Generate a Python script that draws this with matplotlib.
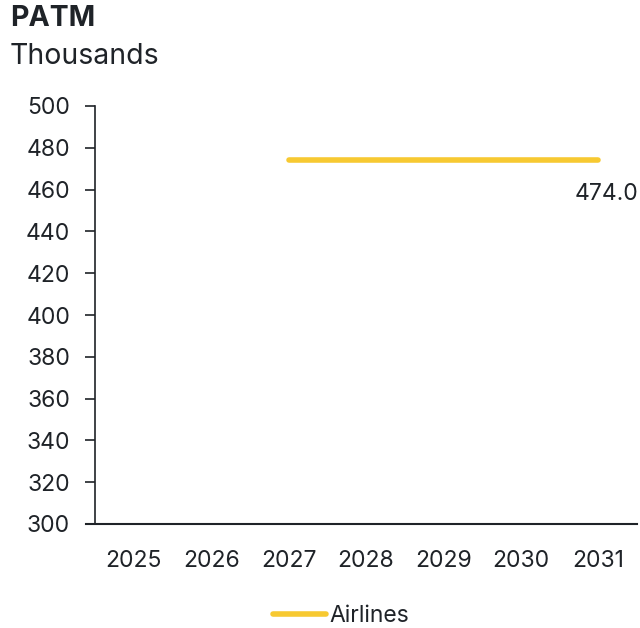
import matplotlib
matplotlib.use("Agg")
import matplotlib.pyplot as plt
from matplotlib.lines import Line2D

years = ["2025", "2026", "2027", "2028", "2029", "2030", "2031"]
airlines = [None, None, 474.0, 474.0, 474.0, 474.0, 474.0]
y_ticks = list(range(300, 501, 20))

text_color = "#1f2328"
line_color = "#F7C931"
plt.rcParams["font.family"] = ["Inter", "DejaVu Sans"]

fig = plt.figure(figsize=(6.4, 6.28), dpi=100)
ax = fig.add_axes([95 / 640, 1 - 524 / 628, 542 / 640, 418 / 628])

xs = [i for i, v in enumerate(airlines) if v is not None]
vals = [v for v in airlines if v is not None]
ax.plot(xs, vals, color=line_color, lw=4, solid_capstyle="round")

ax.annotate(f"{vals[-1]:.1f}", xy=(xs[-1], vals[-1]), xytext=(6, -24),
            textcoords="offset points", ha="center", va="center",
            fontsize=16.5, color=text_color, annotation_clip=False)

ax.set_xlim(-0.5, len(years) - 0.5)
ax.set_ylim(300, 500)
ax.set_xticks(range(len(years)))
ax.set_xticklabels(years)
ax.set_yticks(y_ticks)
ax.tick_params(axis="x", length=0, pad=19, labelsize=16.5, colors=text_color)
ax.tick_params(axis="y", length=7, width=1.2, pad=11, labelsize=16.5,
               colors=text_color, direction="out")
for s in ["top", "right"]:
    ax.spines[s].set_visible(False)
ax.spines["left"].set_color(text_color)
ax.spines["bottom"].set_color(text_color)
ax.spines["left"].set_linewidth(1.2)
ax.spines["bottom"].set_linewidth(1.5)
ax.spines["bottom"].set_bounds(-0.5 - 9 / 77.4, len(years) - 0.5)

fig.text(10 / 640, 1 - 18 / 628, "PATM", fontsize=20.5, fontweight="bold",
         color=text_color, ha="left", va="center")
fig.text(10 / 640, 1 - 57 / 628, "Thousands", fontsize=20.5,
         color=text_color, ha="left", va="center")

handle = Line2D([0], [0], color=line_color, lw=4, solid_capstyle="round")
fig.legend([handle], ["Airlines"], loc="center",
           bbox_to_anchor=(341 / 640, 1 - 616 / 628), frameon=False,
           fontsize=16.5, handlelength=2.3, handletextpad=0.15,
           labelcolor=text_color)

fig.savefig("out.png", dpi=100)
